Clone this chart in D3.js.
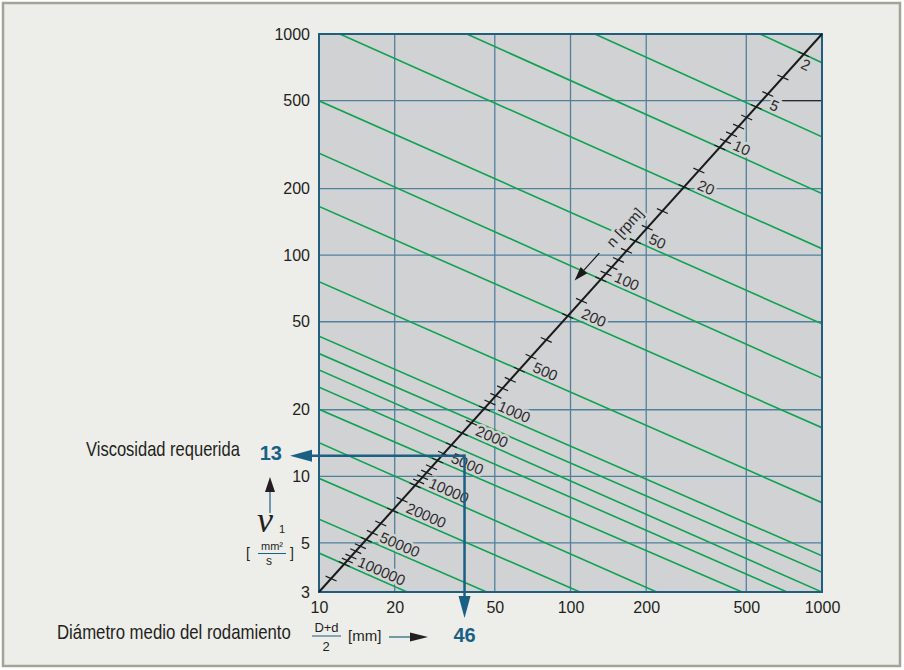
<!DOCTYPE html>
<html>
<head>
<meta charset="utf-8">
<script src="https://cdn.jsdelivr.net/npm/d3@7"></script>
<style>
  body { margin: 0; background: #fff; }
  svg { display: block; font-family: "Liberation Sans", Arial, sans-serif; }
</style>
</head>
<body>
<svg id="chart" width="904" height="670"></svg>
<script>
// axis ticks and grid
const xTicks = [10, 20, 50, 100, 200, 500, 1000];
const yTicks = [3, 5, 10, 20, 50, 100, 200, 500, 1000];
const xGrid = [20, 50, 100, 200, 500];
const yGrid = [5, 10, 20, 50, 100, 200, 500];

// constant speed lines n [rpm]: start and end point as [dm, nu]
const lineSpeeds = [2, 5, 10, 20, 50, 100, 200, 500, 1000, 1500, 2000, 3000, 5000, 10000, 20000, 50000, 100000];
const lineStarts = [[567, 1000], [125, 1000], [38.7, 1000], [12.1, 1000], [10, 499], [10, 289], [10, 166], [10, 75.9],
  [10, 43], [10, 35.9], [10, 30.3], [10, 25.3], [10, 20.1], [10, 14.2], [10, 9.8], [10, 6.4], [10, 4.5]];
const lineEnds = [[1000, 742], [1000, 343], [1000, 190], [1000, 107], [1000, 48.9], [1000, 27.8], [1000, 16.6], [1000, 7.6],
  [1000, 4.37], [1000, 3.68], [1000, 3], [726, 3], [481, 3], [220, 3], [109, 3], [46.4, 3], [22.4, 3]];
const labelledSpeeds = [2, 5, 10, 20, 50, 100, 200, 500, 1000, 2000, 5000, 10000, 20000, 50000, 100000];

// n scale ticks on the diagonal, position given as dm
const scaleTickN = [2, 3, 4, 5, 6, 7, 8, 9, 10, 15, 20, 30, 40, 50, 60, 70, 80, 90, 100, 150, 200, 300, 400, 500, 600, 700, 800, 900,
  1000, 1500, 2000, 3000, 4000, 5000, 6000, 7000, 8000, 9000, 10000, 15000, 20000, 30000, 40000, 50000, 60000, 70000, 80000, 90000, 100000, 150000];
const scaleTickDm = [846, 699, 609, 548, 502, 466, 437, 413, 392, 324, 283, 232, 202, 181, 167, 155, 146, 138.5, 132, 110.6, 97.5, 80.1, 69.7, 62.6, 57.6, 53.7, 50.5, 47.8,
  45.5, 40.4, 37.1, 33.6, 31.3, 29.6, 28.0, 26.8, 25.8, 24.9, 24.1, 21.4, 19.6, 17.6, 16.3, 15.4, 14.6, 14.0, 13.4, 12.96, 12.6, 11.17];

// worked example
const exampleLabels = ['13', '46'];
const exampleAt = [37.9, 12.4]; // where the arrows turn [dm, nu]

const colors = {
  page: '#EDEDE9', border: '#A2A497', plot: '#D1D2D4', grid: '#4F819B', frame: '#1F5E7F',
  speed: '#0FA250', diag: '#1a1a1a', blue: '#1A5F84', text: '#231F20'
};

const svg = d3.select('#chart');
svg.append('rect').attr('width', 904).attr('height', 670).attr('fill', '#fff');
svg.append('rect').attr('x', 3).attr('y', 3).attr('width', 897).attr('height', 663)
  .attr('fill', colors.page).attr('stroke', colors.border).attr('stroke-width', 2.5);

const x = d3.scaleLog().domain([10, 1000]).range([319, 822]);
const y = d3.scaleLog().domain([3, 1000]).range([592, 34]);

svg.append('clipPath').attr('id', 'plotClip').append('rect')
  .attr('x', x(10)).attr('y', y(1000)).attr('width', x(1000) - x(10)).attr('height', y(3) - y(1000));

const g = svg.append('g');
g.append('rect')
  .attr('x', x(10)).attr('y', y(1000)).attr('width', x(1000) - x(10)).attr('height', y(3) - y(1000))
  .attr('fill', colors.plot);

// grid
g.append('g').selectAll('line').data(xGrid).join('line')
  .attr('x1', d => x(d)).attr('x2', d => x(d)).attr('y1', y(3)).attr('y2', y(1000))
  .attr('stroke', colors.grid).attr('stroke-width', 1.3);
g.append('g').selectAll('line').data(yGrid).join('line')
  .attr('x1', x(10)).attr('x2', x(1000)).attr('y1', d => y(d)).attr('y2', d => y(d))
  .attr('stroke', colors.grid).attr('stroke-width', 1.3);
// the 500 line turns dark past the "5" mark
g.append('line').attr('x1', x(1000) - 40).attr('x2', x(1000)).attr('y1', y(500)).attr('y2', y(500))
  .attr('stroke', '#2a2a2a').attr('stroke-width', 1.3);

// speed lines
const speedLines = lineSpeeds.map((n, i) => ({ n: n, a: lineStarts[i], b: lineEnds[i] }));
g.append('g').attr('clip-path', 'url(#plotClip)')
  .selectAll('line').data(speedLines).join('line')
  .attr('x1', d => x(d.a[0])).attr('y1', d => y(d.a[1]))
  .attr('x2', d => x(d.b[0])).attr('y2', d => y(d.b[1]))
  .attr('stroke', colors.speed).attr('stroke-width', 1.6);

// frame
g.append('rect')
  .attr('x', x(10)).attr('y', y(1000)).attr('width', x(1000) - x(10)).attr('height', y(3) - y(1000))
  .attr('fill', 'none').attr('stroke', colors.frame).attr('stroke-width', 2);

// axes
const yAxis = g.append('g').attr('transform', 'translate(' + x(10) + ',0)')
  .call(d3.axisLeft(y).tickValues(yTicks).tickFormat(d3.format('d')).tickSize(0).tickPadding(9));
const xAxis = g.append('g').attr('transform', 'translate(0,' + y(3) + ')')
  .call(d3.axisBottom(x).tickValues(xTicks).tickFormat(d3.format('d')).tickSize(0).tickPadding(10));
[yAxis, xAxis].forEach(a => {
  a.select('.domain').remove();
  a.selectAll('text').attr('font-size', 16).attr('fill', colors.text)
    .attr('font-family', '"Liberation Sans", Arial, sans-serif');
});

// diagonal n scale
const d0 = [x(10), y(3)], d1 = [x(1000), y(1000)];
g.append('line').attr('x1', d0[0]).attr('y1', d0[1]).attr('x2', d1[0]).attr('y2', d1[1])
  .attr('stroke', colors.diag).attr('stroke-width', 2);

function diagPoint(dm) {
  const px = x(dm);
  const t = (px - d0[0]) / (d1[0] - d0[0]);
  return [px, d0[1] + t * (d1[1] - d0[1])];
}
const diagAng = Math.atan2(d1[1] - d0[1], d1[0] - d0[0]);
const tickAng = 24 * Math.PI / 180;

const scaleTicks = scaleTickN.map((n, i) => ({ n: n, p: diagPoint(scaleTickDm[i]) }));
g.append('g').selectAll('line').data(scaleTicks).join('line')
  .attr('x1', d => d.p[0] - 6 * Math.cos(tickAng)).attr('y1', d => d.p[1] - 6 * Math.sin(tickAng))
  .attr('x2', d => d.p[0] + 6 * Math.cos(tickAng)).attr('y2', d => d.p[1] + 6 * Math.sin(tickAng))
  .attr('stroke', colors.diag).attr('stroke-width', 1.2);

// labels where each speed line crosses the diagonal
function intersect(p1, p2, p3, p4) {
  const den = (p1[0] - p2[0]) * (p3[1] - p4[1]) - (p1[1] - p2[1]) * (p3[0] - p4[0]);
  const t = ((p1[0] - p3[0]) * (p3[1] - p4[1]) - (p1[1] - p3[1]) * (p3[0] - p4[0])) / den;
  return [p1[0] + t * (p2[0] - p1[0]), p1[1] + t * (p2[1] - p1[1])];
}
const speedLabels = speedLines.filter(d => labelledSpeeds.includes(d.n)).map(d => {
  const a = [x(d.a[0]), y(d.a[1])], b = [x(d.b[0]), y(d.b[1])];
  return { n: d.n, p: intersect(a, b, d0, d1), ang: Math.atan2(b[1] - a[1], b[0] - a[0]) * 180 / Math.PI };
});
// a label that would run past the right edge goes below its line
const flips = d => d.p[0] + 20 + String(d.n).length * 8.3 > x(1000);
const lab = g.append('g').selectAll('g').data(speedLabels).join('g')
  .attr('transform', d => 'translate(' + d.p[0] + ',' + d.p[1] + ') rotate(' + d.ang + ')');
lab.append('text')
  .attr('x', d => flips(d) ? 2 : 12)
  .attr('y', d => flips(d) ? 14 : -3.5)
  .attr('font-size', 15).attr('fill', '#2b2b2b')
  .attr('stroke', colors.plot).attr('stroke-width', 5).attr('paint-order', 'stroke')
  .text(d => d.n);

// "n [rpm]" caption with arrow along the diagonal
const up = [Math.sin(diagAng), -Math.cos(diagAng)]; // unit normal pointing up-left
function nearDiag(dm, dist) {
  const p = diagPoint(dm);
  return [p[0] + up[0] * dist, p[1] + up[1] * dist];
}
const capPos = nearDiag(184.5, 17);
g.append('text')
  .attr('transform', 'translate(' + capPos[0] + ',' + capPos[1] + ') rotate(' + diagAng * 180 / Math.PI + ')')
  .attr('text-anchor', 'middle').attr('dy', '0.35em')
  .attr('font-size', 15).attr('fill', '#2b2b2b')
  .attr('stroke', colors.plot).attr('stroke-width', 5).attr('paint-order', 'stroke')
  .text('n [rpm]');
const arTail = nearDiag(147.8, 18.7), arTip = nearDiag(117.9, 18.7);
const dirX = Math.cos(diagAng), dirY = Math.sin(diagAng);
const headBase = [arTip[0] + dirX * 14, arTip[1] + dirY * 14];
g.append('line').attr('x1', arTail[0]).attr('y1', arTail[1]).attr('x2', headBase[0]).attr('y2', headBase[1])
  .attr('stroke', colors.diag).attr('stroke-width', 1.2);
g.append('path')
  .attr('d', 'M' + arTip + 'L' + [headBase[0] + up[0] * 4.5, headBase[1] + up[1] * 4.5] +
    'L' + [headBase[0] - up[0] * 4.5, headBase[1] - up[1] * 4.5] + 'Z')
  .attr('fill', colors.diag);

// worked example arrows
const ex = [x(exampleAt[0]), y(exampleAt[1])];
const hTip = x(10) - 29, vTip = y(3) + 26;
g.append('line').attr('x1', ex[0]).attr('y1', ex[1]).attr('x2', hTip + 20).attr('y2', ex[1])
  .attr('stroke', colors.blue).attr('stroke-width', 2.5);
g.append('path').attr('d', 'M' + hTip + ',' + ex[1] + 'L' + (hTip + 22) + ',' + (ex[1] - 6) + 'L' + (hTip + 22) + ',' + (ex[1] + 6) + 'Z')
  .attr('fill', colors.blue);
g.append('line').attr('x1', ex[0]).attr('y1', ex[1] - 1.25).attr('x2', ex[0]).attr('y2', vTip - 20)
  .attr('stroke', colors.blue).attr('stroke-width', 2.5);
g.append('path').attr('d', 'M' + ex[0] + ',' + vTip + 'L' + (ex[0] - 6) + ',' + (vTip - 22) + 'L' + (ex[0] + 6) + ',' + (vTip - 22) + 'Z')
  .attr('fill', colors.blue);
g.append('text').attr('x', x(10) - 37).attr('y', ex[1] + 4).attr('text-anchor', 'end')
  .attr('font-size', 20).attr('font-weight', 'bold').attr('fill', colors.blue).text(exampleLabels[0]);
g.append('text').attr('x', ex[0]).attr('y', y(3) + 50).attr('text-anchor', 'middle')
  .attr('font-size', 20).attr('font-weight', 'bold').attr('fill', colors.blue).text(exampleLabels[1]);

// captions, squeezed horizontally like a condensed face
const cap = svg.append('g').attr('fill', colors.text);
function condensed(x0, y0, size, width, str) {
  const t = cap.append('text').attr('font-size', size).text(str);
  const w = t.node().getComputedTextLength();
  t.attr('transform', 'translate(' + x0 + ',' + y0 + ') scale(' + (width / w) + ',1)');
  return t;
}
condensed(86, 456, 20, 154, 'Viscosidad requerida');
condensed(57, 639, 20, 234, 'Diámetro medio del rodamiento');

// nu1 symbol with unit and arrow
cap.append('line').attr('x1', 270).attr('x2', 270).attr('y1', 513).attr('y2', 490)
  .attr('stroke', colors.blue).attr('stroke-width', 1.2);
cap.append('path').attr('d', 'M270,477L265,492L275,492Z').attr('fill', colors.text);
cap.append('text').attr('x', 257).attr('y', 532).attr('font-size', 36).attr('font-style', 'italic')
  .attr('font-family', '"Liberation Serif", "DejaVu Serif", serif').text('ν');
cap.append('text').attr('x', 279).attr('y', 533).attr('font-size', 11).text('1');
cap.append('text').attr('x', 246).attr('y', 558).attr('font-size', 14).text('[');
cap.append('text').attr('x', 290).attr('y', 558).attr('font-size', 14).text(']');
cap.append('text').attr('x', 272).attr('y', 550).attr('font-size', 11).attr('text-anchor', 'middle').text('mm²');
cap.append('line').attr('x1', 258).attr('x2', 286).attr('y1', 553.5).attr('y2', 553.5)
  .attr('stroke', colors.blue).attr('stroke-width', 1);
cap.append('text').attr('x', 269).attr('y', 565).attr('font-size', 12).attr('text-anchor', 'middle').text('s');

// dm unit with arrow
cap.append('text').attr('x', 326.5).attr('y', 632).attr('font-size', 13).attr('text-anchor', 'middle').text('D+d');
cap.append('line').attr('x1', 312).attr('x2', 341).attr('y1', 636).attr('y2', 636)
  .attr('stroke', colors.blue).attr('stroke-width', 1);
cap.append('text').attr('x', 326).attr('y', 651).attr('font-size', 13).attr('text-anchor', 'middle').text('2');
cap.append('text').attr('x', 348).attr('y', 641).attr('font-size', 15).text('[mm]');
cap.append('line').attr('x1', 389).attr('x2', 412).attr('y1', 637).attr('y2', 637)
  .attr('stroke', colors.blue).attr('stroke-width', 1.2);
cap.append('path').attr('d', 'M428,637L410,632.5L410,641.5Z').attr('fill', colors.text);
</script>
</body>
</html>
